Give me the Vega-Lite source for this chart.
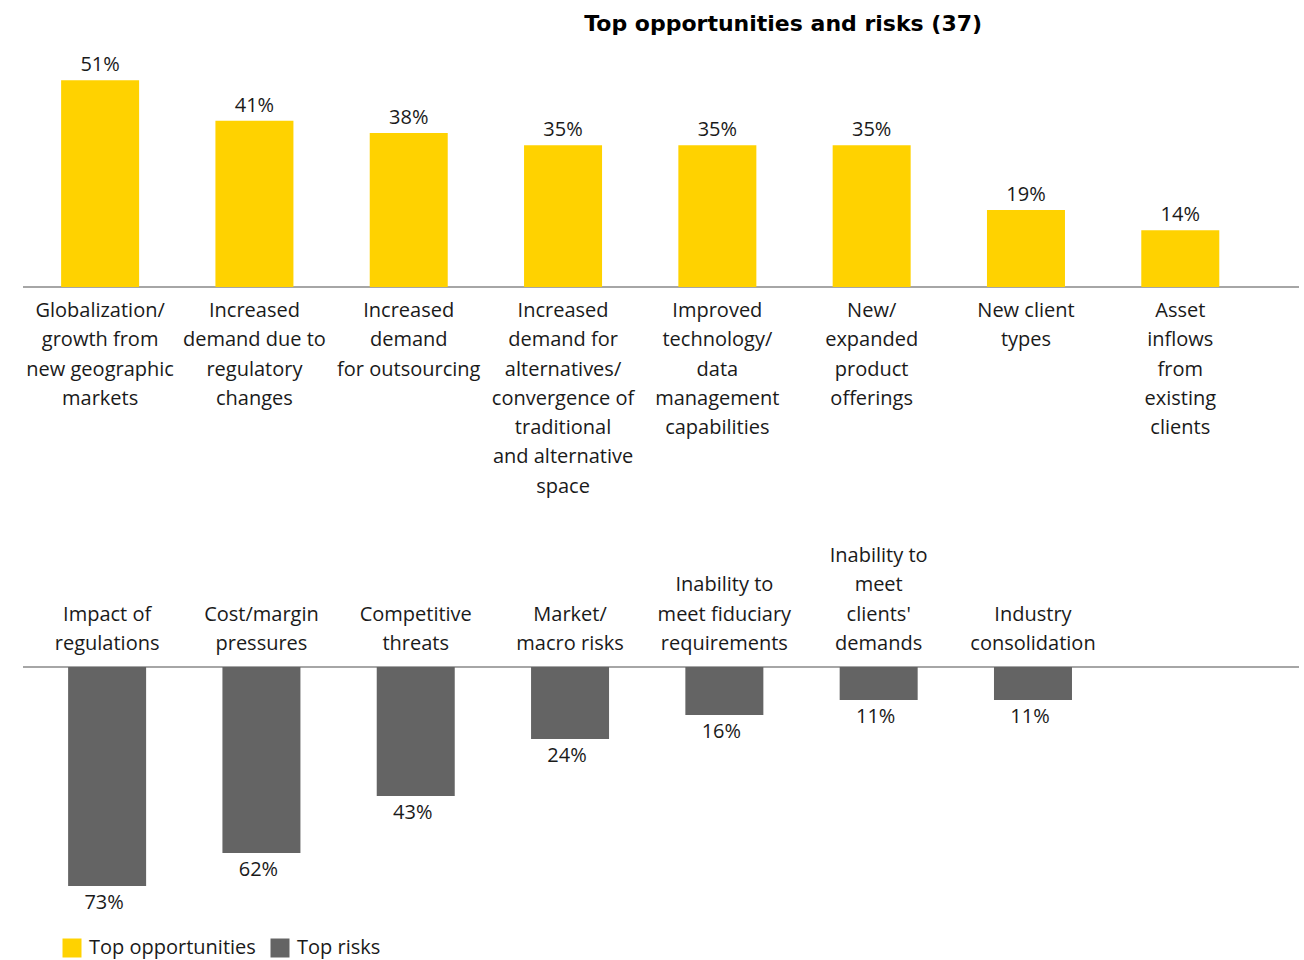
{
  "$schema": "https://vega.github.io/schema/vega-lite/v6.json",
  "width": 1276,
  "height": 910,
  "autosize": {"type": "none"},
  "padding": {"left": 23, "top": 50, "right": 5, "bottom": 0},
  "background": "white",
  "config": {"view": {"stroke": null}, "font": "Open Sans"},
  "title": {
    "text": "Top opportunities and risks (37)",
    "anchor": "start",
    "dx": 562,
    "dy": -10,
    "fontSize": 22,
    "fontWeight": "bold",
    "font": "DejaVu Sans",
    "color": "#000000"
  },
  "datasets": {
    "opp": [
      {"key": "o1", "label": "Globalization/|growth from|new geographic|markets", "value": 51, "group": "Top opportunities"},
      {"key": "o2", "label": "Increased|demand due to|regulatory|changes", "value": 41, "group": "Top opportunities"},
      {"key": "o3", "label": "Increased|demand|for outsourcing", "value": 38, "group": "Top opportunities"},
      {"key": "o4", "label": "Increased|demand for|alternatives/|convergence of|traditional|and alternative|space", "value": 35, "group": "Top opportunities"},
      {"key": "o5", "label": "Improved|technology/|data|management|capabilities", "value": 35, "group": "Top opportunities"},
      {"key": "o6", "label": "New/|expanded|product|offerings", "value": 35, "group": "Top opportunities"},
      {"key": "o7", "label": "New client|types", "value": 19, "group": "Top opportunities"},
      {"key": "o8", "label": "Asset|inflows|from|existing|clients", "value": 14, "group": "Top opportunities"}
    ],
    "risk": [
      {"key": "r1", "label": "Impact of|regulations", "value": 73, "group": "Top risks"},
      {"key": "r2", "label": "Cost/margin|pressures", "value": 62, "group": "Top risks"},
      {"key": "r3", "label": "Competitive|threats", "value": 43, "group": "Top risks"},
      {"key": "r4", "label": "Market/|macro risks", "value": 24, "group": "Top risks"},
      {"key": "r5", "label": "Inability to|meet fiduciary|requirements", "value": 16, "group": "Top risks"},
      {"key": "r6", "label": "Inability to|meet|clients'|demands", "value": 11, "group": "Top risks"},
      {"key": "r7", "label": "Industry|consolidation", "value": 11, "group": "Top risks"}
    ]
  },
  "layer": [
    {
      "data": {"name": "opp"},
      "encoding": {
        "x": {"field": "key", "type": "nominal", "sort": null, "axis": null,
              "scale": {"range": [0, 1234.4], "paddingInner": 0.4945, "paddingOuter": 0.247}},
        "y": {"field": "value", "type": "quantitative", "axis": null,
              "scale": {"domain": [-166.2, 58.5], "nice": false, "zero": false}}
      },
      "layer": [
        {
          "mark": {"type": "rule", "color": "#A6A6A6", "strokeWidth": 1.5},
          "encoding": {"x": null, "y": {"datum": 0}}
        },
        {
          "mark": {"type": "bar"},
          "encoding": {
            "y2": {"datum": 0},
            "color": {"field": "group", "type": "nominal",
                      "scale": {"domain": ["Top opportunities", "Top risks"], "range": ["#FFD200", "#646464"]},
                      "legend": {"orient": "none", "legendX": 39, "legendY": 888, "direction": "horizontal",
                                 "title": null, "symbolType": "square", "symbolSize": 361, "symbolStrokeWidth": 0,
                                 "labelFontSize": 20, "labelFont": "Open Sans", "labelColor": "#1a1a1a",
                                 "labelLimit": 0, "labelOffset": 7, "columnPadding": 14, "symbolOpacity": 1}}
          }
        },
        {
          "mark": {"type": "text", "baseline": "alphabetic", "dy": -9, "fontSize": 20, "color": "#1a1a1a",
                   "text": {"expr": "datum.value + '%'"}},
          "encoding": {"y": {"field": "value", "type": "quantitative"}}
        },
        {
          "mark": {"type": "text", "baseline": "top", "dy": 14, "fontSize": 20, "lineBreak": "|", "lineHeight": 29.3, "color": "#1a1a1a"},
          "encoding": {"text": {"field": "label"}, "y": {"datum": 0}}
        }
      ]
    },
    {
      "data": {"name": "risk"},
      "encoding": {
        "x": {"field": "key", "type": "nominal", "sort": null, "axis": null,
              "scale": {"range": [7, 1087.1], "paddingInner": 0.4945, "paddingOuter": 0.247}},
        "y": {"field": "value", "type": "quantitative", "axis": null,
              "scale": {"domain": [-205.67, 97.67], "nice": false, "zero": false, "reverse": true}}
      },
      "layer": [
        {
          "mark": {"type": "rule", "color": "#A6A6A6", "strokeWidth": 1.5},
          "encoding": {"x": null, "y": {"datum": 0}}
        },
        {
          "mark": {"type": "bar"},
          "encoding": {
            "y2": {"datum": 0},
            "color": {"field": "group", "type": "nominal"}
          }
        },
        {
          "mark": {"type": "text", "baseline": "alphabetic", "dy": 23, "dx": -3, "fontSize": 20, "color": "#1a1a1a",
                   "text": {"expr": "datum.value + '%'"}},
          "encoding": {"y": {"field": "value", "type": "quantitative"}}
        },
        {
          "mark": {"type": "text", "baseline": "bottom", "fontSize": 20, "lineBreak": "|", "lineHeight": 29.3, "color": "#1a1a1a",
                   "dy": {"expr": "-13 - 29.3 * (length(split(datum.label, '|')) - 1)"}},
          "encoding": {"text": {"field": "label"}, "y": {"datum": 0}}
        }
      ]
    }
  ],
  "resolve": {"scale": {"x": "independent", "y": "independent"}}
}
